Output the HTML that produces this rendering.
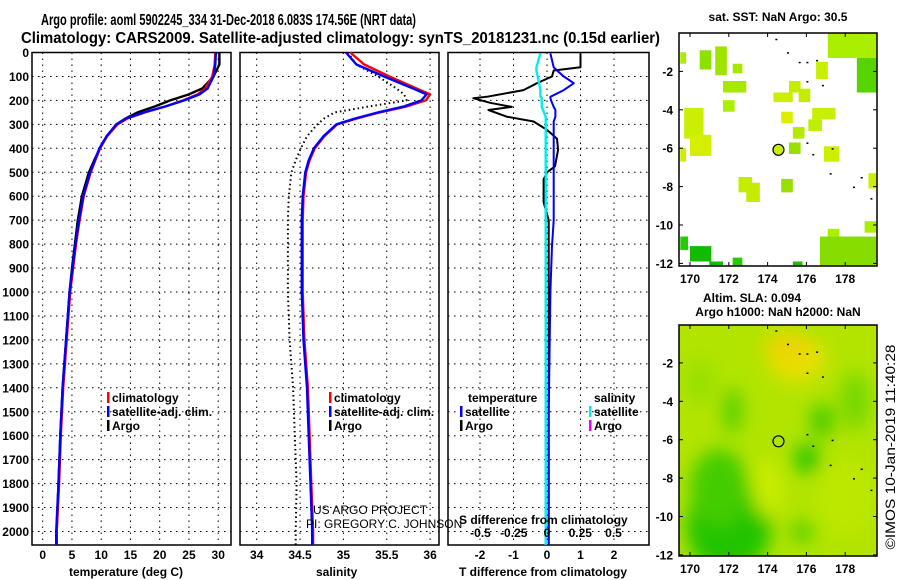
<!DOCTYPE html>
<html><head><meta charset="utf-8">
<style>
html,body{margin:0;padding:0;background:#fff;width:900px;height:580px;overflow:hidden}
svg{display:block;font-family:"Liberation Sans",sans-serif;font-weight:bold}
</style></head>
<body>
<svg id="chart" width="900" height="580" viewBox="0 0 900 580" xmlns="http://www.w3.org/2000/svg">
<defs>
<filter id="blur" x="-20%" y="-20%" width="140%" height="140%"><feGaussianBlur stdDeviation="9"/></filter>
<clipPath id="clipM2"><rect x="679" y="325" width="198" height="231"/></clipPath>
<clipPath id="clipM1"><rect x="679" y="33" width="198" height="233"/></clipPath>
</defs>
<text x="41" y="25" font-size="16" textLength="375" lengthAdjust="spacingAndGlyphs">Argo profile: aoml 5902245_334 31-Dec-2018 6.083S 174.56E (NRT data)</text>
<text x="21" y="43" font-size="16" textLength="639" lengthAdjust="spacingAndGlyphs">Climatology: CARS2009. Satellite-adjusted climatology: synTS_20181231.nc (0.15d earlier)</text>
<g id="g"></g>
</svg>
<script>
// ---------- data ----------
const depthTicks = [0,100,200,300,400,500,600,700,800,900,1000,1100,1200,1300,1400,1500,1600,1700,1800,1900,2000];
const tempTicks = [0,5,10,15,20,25,30];
const salTicks = [34,34.5,35,35.5,36];
const tdiffTicks = [-2,-1,0,1,2];
const sdiffTickLabels = ["-0.5","-0.25","0","0.25","0.5"];
const sdiffTicks = [-0.5,-0.25,0,0.25,0.5];

const profDepth = [0,50,100,150,175,200,225,250,275,300,350,400,450,500,600,700,800,900,1000,1200,1400,1600,1800,2000,2056];
const tempClim  = [29.5,29.4,29.0,27.8,26.5,24.0,21.0,17.5,14.5,12.8,11.0,9.8,9.0,8.2,7.0,6.3,5.7,5.2,4.7,4.1,3.5,3.1,2.8,2.4,2.3];
const tempSat   = [29.6,29.5,29.2,28.2,26.8,24.2,21.0,17.3,14.3,12.6,10.9,9.7,8.9,8.1,6.9,6.2,5.6,5.1,4.6,4.0,3.4,3.0,2.7,2.3,2.3];
const tempArgo  = [30.2,30.2,29.2,27.3,25.0,21.8,19.2,16.2,14.2,12.6,11.0,9.8,8.8,7.9,6.7,6.0,5.5,5.0,4.6,4.0,3.4,3.0,2.7,2.4,2.4];
const salClim   = [35.08,35.24,35.53,35.84,36.0,35.95,35.73,35.42,35.16,34.93,34.78,34.67,34.61,34.57,34.54,34.53,34.53,34.53,34.53,34.55,34.59,34.61,34.63,34.65,34.65];
const salSat    = [35.03,35.15,35.47,35.80,35.96,35.90,35.70,35.40,35.14,34.92,34.77,34.66,34.60,34.56,34.53,34.52,34.52,34.52,34.52,34.54,34.58,34.60,34.62,34.64,34.64];
const salArgo   = [35.05,35.15,35.40,35.61,35.70,35.73,35.30,34.90,34.78,34.70,34.58,34.51,34.45,34.40,34.37,34.36,34.36,34.36,34.36,34.38,34.42,34.44,34.46,34.45,34.45];

const diffDepth = [4,62,75,100,128,157,185,191,210,227,240,268,288,323,360,406,475,500,530,625,700,807,1000,1500,2056];
const tdiffArgo = [1.0,1.0,0.2,0.15,-0.3,-0.7,-1.8,-2.2,-1.7,-1.05,-1.75,-1.2,-0.4,0.0,0.3,0.33,0.24,0.0,-0.1,-0.1,0.05,0.05,0.05,0.05,0.05];
const tdiffSat  = [0.1,0.2,0.3,0.5,0.8,0.5,0.1,0.1,0.15,0.2,0.25,0.25,0.2,0.2,0.2,0.2,0.2,0.2,0.2,0.2,0.2,0.15,0.1,0.05,0.05];
const sdiffSat  = [-0.05,-0.08,-0.08,-0.07,-0.06,-0.05,-0.05,-0.04,-0.04,-0.04,-0.03,-0.01,-0.01,-0.01,-0.01,-0.01,-0.01,-0.01,-0.01,-0.01,-0.01,-0.01,-0.01,-0.01,-0.01];

const mapLonTicks = [170,172,174,176,178];
const map1LatTicks = [-2,-4,-6,-8,-10,-12];
const map2LatTicks = [-2,-4,-6,-8,-10,-12];
const sstPatchLon0 = [170.5,171.3,172.2,171.7,171.7,169.7,170.0,169.5,169.5,174.3,175.1,175.6,174.7,175.3,176.1,176.3,176.5,175.1,176.9,172.5,172.9,174.7,179.2,177.1,178.6,179.0,177.1,176.7,169.5,170.0,171.0,172.2,175.3];
const sstPatchLon1 = [171.1,171.9,172.7,172.9,172.3,170.7,171.1,169.8,169.8,175.3,175.7,176.2,175.3,175.9,176.8,177.5,177.1,175.7,177.7,173.2,173.6,175.3,179.6,179.6,179.6,179.6,177.7,179.6,169.9,171.1,171.7,172.7,175.8];
const sstPatchLat0 = [-0.9,-0.7,-1.6,-2.5,-3.5,-3.9,-5.3,-6.0,-1.0,-3.1,-2.5,-2.9,-4.1,-4.9,-4.5,-3.9,-1.5,-5.7,-5.9,-7.5,-7.8,-7.6,-7.3,0,-1.3,-9.8,-10.2,-10.6,-10.6,-11.1,-11.9,-11.7,-11.9];
const sstPatchLat1 = [-1.9,-2.2,-2.1,-3.1,-4.1,-5.5,-6.4,-6.7,-1.6,-3.6,-3.1,-3.6,-4.7,-5.5,-5.1,-4.5,-2.4,-6.3,-6.7,-8.3,-8.8,-8.3,-8.1,-1.3,-3.1,-10.4,-10.9,-12.1,-11.3,-11.9,-12.1,-12.1,-12.1];
const sstPatchColor = ["#8ee000","#9ee400","#a8e800","#a8e800","#aaee00","#ccee00","#d4f000","#ccee00","#aaee00","#ccee00","#c4ec00","#c4ec00","#ddee00","#b4ea00","#bfee00","#c8ee00","#c8ee00","#99e000","#ccee00","#c4ec00","#c4ec00","#99e000","#ccee00","#aaee00","#55d400","#aaee00","#aaee00","#88dd00","#22cc00","#11bb00","#11bb00","#22cc00","#22bb00"];
const slaLon = [172,175.5,175,171.5,172.2,176,176.8,175.8,178.5,170.5,178,174];
const slaLat = [-10.5,-1.8,-1.2,-8.5,-4.5,-7,-5,-10.8,-4,-3,-9,-8.5];
const slaRx  = [2.2,1.5,1.2,1.5,0.5,0.7,0.6,0.6,0.8,0.8,1.5,0.8];
const slaRy  = [2.5,1.2,0.8,2,1.2,0.8,0.9,0.6,1.5,1.2,2,1.5];
const slaCol = ["#22c400","#e8e000","#eed400","#44cc00","#55d000","#33c800","#44cc00","#55d000","#77d800","#99e000","#bce800","#c8ec00"];

// ---------- helpers ----------
const NS="http://www.w3.org/2000/svg";
const G=document.getElementById('g');
function el(tag,attrs,parent){const e=document.createElementNS(NS,tag);for(const k in attrs)e.setAttribute(k,attrs[k]);(parent||G).appendChild(e);return e;}
const yDepth = d => 52.5 + 0.2395*d;
const xTemp = t => 42.7 + 5.85*t;
const xSal = s => 256.7 + 86.7*(s-34);
const xTd = t => 547 + 33.5*t;
const xSd = s => 547 + 133*s;
const P1={x:32,w:199},P2={x:240,w:199},P3={x:448,w:201};
const yTop=52.5,yBot=545;

function panelFrame(P,name,xt,ticks,labels,tickFn,labelY){
  const box=el('rect',{x:P.x,y:yTop,width:P.w,height:yBot-yTop,fill:'none',stroke:'#000','stroke-width':1.5});
  
  
  depthTicks.forEach(d=>{
    const l=el('line',{x1:P.x,x2:P.x+P.w,y1:yDepth(d),y2:yDepth(d),stroke:'#000','stroke-dasharray':'1.5,4.5','stroke-width':1});
    
    
  });
  ticks.forEach((t,i)=>{
    const x=tickFn(t);
    const l=el('line',{x1:x,x2:x,y1:yTop,y2:yBot,stroke:'#000','stroke-dasharray':'1.5,4.5','stroke-width':1});
    
    
    if(labels){
      const tx=el('text',{x:x,y:labelY,'font-size':12,'text-anchor':'middle'});
      tx.textContent=labels[i];
      
      
    }
  });
}
function poly(xs,ds,xf,color,name,extra){
  const pts=xs.map((v,i)=>xf(v).toFixed(1)+','+yDepth(ds[i]).toFixed(1)).join(' ');
  const a={points:pts,fill:'none',stroke:color,'stroke-width':2.4,'stroke-linejoin':'round'};
  if(extra)Object.assign(a,extra);
  const p=el('polyline',a);
  
  
}
function txt(x,y,s,size,name,extra){
  const a={x:x,y:y,'font-size':size};
  if(extra)Object.assign(a,extra);
  const t=el('text',a);t.textContent=s;
  
  
  return t;
}

depthTicks.forEach(d=>{
  const t=el('text',{x:29,y:yDepth(d)+4.5,'font-size':12,'text-anchor':'end'});
  t.textContent=d;
  
  
});

panelFrame(P1,'temperature-panel','x',tempTicks,tempTicks.map(String),xTemp,559);
poly(tempArgo,profDepth,xTemp,'#000','temp-argo-line');
poly(tempClim,profDepth,xTemp,'#f00','temp-climatology-line');
poly(tempSat,profDepth,xTemp,'#00f','temp-satellite-line');
txt(69,576,'temperature (deg C)',12,'temperature-axis-title');

panelFrame(P2,'salinity-panel','x',salTicks,salTicks.map(String),xSal,559);
poly(salArgo,profDepth,xSal,'#000','sal-argo-dotted-line',{'stroke-dasharray':'1.5,3','stroke-width':2});
poly(salClim,profDepth,xSal,'#f00','sal-climatology-line');
poly(salSat,profDepth,xSal,'#00f','sal-satellite-line');
txt(316,576,'salinity',12,'salinity-axis-title');

panelFrame(P3,'difference-panel','x',tdiffTicks,tdiffTicks.map(String),xTd,559);
poly(tdiffArgo,diffDepth,xTd,'#000','tdiff-argo-line',{'stroke-width':2});
poly(tdiffSat,diffDepth,xTd,'#00f','tdiff-satellite-line',{'stroke-width':2});
poly(sdiffSat,diffDepth,xSd,'#0ee','sdiff-satellite-line',{'stroke-width':2.4});
sdiffTicks.forEach((s,i)=>{
  const t=el('text',{x:xSd(s),y:537,'font-size':12,'text-anchor':'middle'});
  t.textContent=sdiffTickLabels[i];
  
  
});
txt(459,524,'S difference from climatology',12,'sdiff-axis-title');
txt(459,576,'T difference from climatology',12,'tdiff-axis-title');

function legEntry(x,y,color,label,name){
  const r=el('rect',{x:x,y:y-10,width:2.5,height:11,fill:color});
  
  
  txt(x+5,y,label,12,name);
}
legEntry(107,402,'#f00','climatology','legend-temp-climatology');
legEntry(107,416,'#00f','satellite-adj. clim.','legend-temp-satellite');
legEntry(107,430,'#000','Argo','legend-temp-argo');
legEntry(329,402,'#f00','climatology','legend-sal-climatology');
legEntry(329,416,'#00f','satellite-adj. clim.','legend-sal-satellite');
legEntry(329,430,'#000','Argo','legend-sal-argo');
txt(468,402,'temperature',12,'legend-temp-header');
legEntry(460,416,'#00f','satellite','legend-tdiff-satellite');
legEntry(460,430,'#000','Argo','legend-tdiff-argo');
txt(594,402,'salinity',12,'legend-sal-header');
legEntry(589,416,'#0ee','satellite','legend-sdiff-satellite');
legEntry(589,430,'#e0e','Argo','legend-sdiff-argo');
txt(313,514,'US ARGO PROJECT',12,'credit-project',{'font-weight':'normal'});
txt(306,528,'PI: GREGORY C. JOHNSON',12,'credit-pi',{'font-weight':'normal'});

const mx = lon => 690 + 19.4*(lon-170);
const my1 = lat => 33 - 19.2*lat;
const my2 = lat => 324.5 - 19.2*lat;

const m1=el('g',{'clip-path':'url(#clipM1)'});
sstPatchLon0.forEach((l0,i)=>{
  const x0=mx(l0),x1=mx(sstPatchLon1[i]),y0=my1(sstPatchLat0[i]),y1=my1(sstPatchLat1[i]);
  const r=el('rect',{x:x0,y:y0,width:x1-x0,height:y1-y0,fill:sstPatchColor[i]},m1);
  
  
});
const m2=el('g',{'clip-path':'url(#clipM2)'});
const bg=el('rect',{x:679,y:325,width:198,height:231,fill:'#b2e400'},m2);


const bl=el('g',{filter:'url(#blur)'},m2);
slaLon.forEach((lo,i)=>{
  const e=el('ellipse',{cx:mx(lo),cy:my2(slaLat[i]),rx:slaRx[i]*19.4,ry:slaRy[i]*19.2,fill:slaCol[i]},bl);
  
  
});

function mapFrame(yt,yb,yf,latTicks,name){
  const r=el('rect',{x:679,y:yt,width:198,height:yb-yt,fill:'none',stroke:'#000','stroke-width':1.5});
  
  
  mapLonTicks.forEach(lo=>{
    const x=mx(lo);
    el('line',{x1:x,x2:x,y1:yt,y2:yt+4,stroke:'#000'});
    el('line',{x1:x,x2:x,y1:yb,y2:yb-4,stroke:'#000'});
    txt(x,yb+17,String(lo),12,name+'-lon-label',{'text-anchor':'middle'});
  });
  latTicks.forEach(la=>{
    const y=yf(la);
    el('line',{x1:679,x2:683,y1:y,y2:y,stroke:'#000'});
    el('line',{x1:877,x2:873,y1:y,y2:y,stroke:'#000'});
    txt(673,y+4.5,String(la),12,name+'-lat-label',{'text-anchor':'end'});
  });
  const c=el('circle',{cx:mx(174.56),cy:yf(-6.083),r:5.5,fill:name==='sst-map'?'#ccee00':'none',stroke:'#000','stroke-width':1.2});
  
  
}
mapFrame(33,266,my1,map1LatTicks,'sst-map');
mapFrame(325,556,my2,map2LatTicks,'sla-map');
[[174.4,-0.3],[175.0,-1.0],[175.6,-1.5],[176.0,-1.5],[176.5,-1.4],[176.0,-2.5],[176.8,-2.7],[176.0,-5.7],[176.3,-6.3],[177.3,-6.0],[177.2,-7.3],[178.4,-8.0],[178.8,-7.5],[179.3,-8.6]].forEach(p=>{
  el('rect',{x:mx(p[0]),y:my1(p[1]),width:2,height:1.5,fill:'#000'});
  el('rect',{x:mx(p[0]),y:my2(p[1]),width:2,height:1.5,fill:'#000'});
});
txt(778,21,'sat. SST: NaN Argo: 30.5',12,'sst-map-title',{'text-anchor':'middle'});
txt(752,302,'Altim. SLA: 0.094',12,'sla-map-title-1',{'text-anchor':'middle'});
txt(778,316,'Argo h1000: NaN h2000: NaN',12,'sla-map-title-2',{'text-anchor':'middle'});
txt(895,447,'©IMOS 10-Jan-2019 11:40:28',14,'timestamp-credit',{'text-anchor':'middle','font-weight':'normal',textLength:205,lengthAdjust:'spacingAndGlyphs',transform:'rotate(-90 895 447)'});
</script>
</body></html>
